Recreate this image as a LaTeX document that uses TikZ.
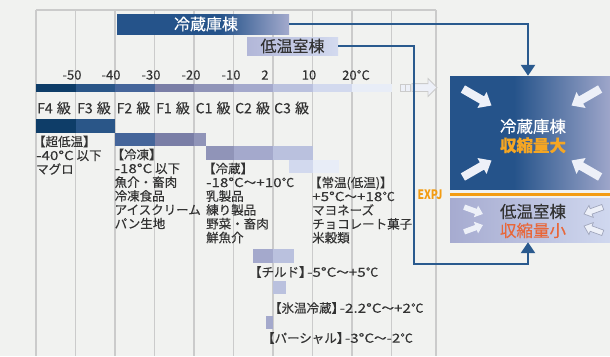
\documentclass[tikz,border=0pt]{standalone}
\usepackage{fontspec}
\setmainfont{Noto Sans CJK JP}[FakeBold=0.25]
\newfontfamily\condfont[FakeStretch=0.8]{Noto Sans CJK JP}
\newfontfamily\widefont[FakeStretch=1.22,FakeBold=0.25]{Noto Sans CJK JP}
\usetikzlibrary{arrows.meta,shapes.arrows}
\definecolor{bgc}{HTML}{F1F2F0}
\definecolor{gridc}{HTML}{CBCBCB}
\definecolor{txt}{HTML}{333333}
\definecolor{navy}{HTML}{2A5A8E}
\definecolor{sA}{HTML}{0E3D68}
\definecolor{sB}{HTML}{2A5688}
\definecolor{sC}{HTML}{45659A}
\definecolor{sD}{HTML}{7A7EA6}
\definecolor{sE}{HTML}{9094B8}
\definecolor{sF}{HTML}{A4A9CC}
\definecolor{sG}{HTML}{BAC1DE}
\definecolor{sH}{HTML}{D2D9EE}
\definecolor{sI}{HTML}{E8EDF7}
\definecolor{rzA}{HTML}{25538A}
\definecolor{rzB}{HTML}{A3AACD}
\definecolor{bxB}{HTML}{9EA6CA}
\definecolor{tbA}{HTML}{B2B7D8}
\definecolor{tbB}{HTML}{D3DAEF}
\definecolor{lbA}{HTML}{A6ABD0}
\definecolor{lbB}{HTML}{D0D8EF}
\definecolor{orng}{HTML}{F39C12}
\definecolor{orgold}{HTML}{F5A623}
\definecolor{orred}{HTML}{E8673A}
\definecolor{arrw}{HTML}{EDF0F8}
\definecolor{arrline}{HTML}{A0A6BC}
\pgfdeclarehorizontalshading{rzshade}{100bp}{color(0bp)=(rzA); color(55bp)=(rzA); color(75bp)=(rzB); color(100bp)=(rzB)}
\pgfdeclarehorizontalshading{bxshade}{100bp}{color(0bp)=(rzA); color(45bp)=(rzA); color(75bp)=(bxB); color(100bp)=(bxB)}
\tikzset{
  num/.style={inner sep=0pt, text=txt, font=\fontsize{13}{13}\selectfont},
  grd/.style={anchor=west, inner sep=0pt, text=txt, font=\fontsize{14}{14}\selectfont},
  blk/.style={anchor=north west, align=left, inner sep=0pt, text=txt, font=\fontsize{12.5}{13.8}\selectfont},
  one/.style={anchor=west, inner sep=0pt, text=txt, font=\fontsize{12.5}{13.8}\selectfont},
  conn/.style={draw=navy, line width=2.4pt, -{Triangle[width=14pt,length=11pt]}},
  bigarr/.style={single arrow, fill=arrw, draw=none, minimum height=33pt, inner xsep=0pt, inner ysep=4pt, single arrow head extend=5pt, single arrow tip angle=80},
  smallarr/.style={single arrow, fill=arrw, draw=none, minimum height=20pt, inner xsep=0pt, inner ysep=2.5pt, single arrow head extend=3.5pt, single arrow tip angle=80},
  hollowarr/.style={smallarr, fill=arrw, draw=arrline, line width=0.7pt},
}
\newcommand{\gsp}{\hspace{0.3em}}
\newcommand{\lt}[1]{{\widefont #1}}
\newcommand{\rb}{】\kern-0.35em}
\newcommand{\lb}{\kern-0.25em【}
\begin{document}
\begin{tikzpicture}[x=1pt,y=-1pt]
\useasboundingbox (0,0) rectangle (610,356);
\fill[bgc] (0,0) rectangle (610,356);
% grid
\foreach \gx in {36,75.5,115,154.5,194,233.5,273,312.5,352,391.5,436}
  \draw[gridc, line width=1.4pt] (\gx,10) -- (\gx,356);
\draw[gridc, line width=1.4pt] (36,10) -- (436,10);
% scale bar
\fill[sA] (36,84) rectangle (75.5,92);
\fill[sB] (75.5,84) rectangle (115,92);
\fill[sC] (115,84) rectangle (154.5,92);
\fill[sD] (154.5,84) rectangle (194,92);
\fill[sE] (194,84) rectangle (233.5,92);
\fill[sF] (233.5,84) rectangle (273,92);
\fill[sG] (273,84) rectangle (312.5,92);
\fill[sH] (312.5,84) rectangle (352,92);
\fill[sI] (352,84) rectangle (391.5,92);
% scale arrow
\draw[draw=gridc, fill=arrw, line width=0.6pt] (400,84) rectangle (405,91);
\draw[draw=gridc, fill=arrw, line width=0.6pt] (405,84) rectangle (410,91);
\node[single arrow, fill=arrw, draw=gridc, line width=0.8pt, minimum height=25pt, inner xsep=0pt, inner ysep=3.5pt, single arrow head extend=5pt, single arrow tip angle=90] (sarr) at (422.5,87.5) {};
% numbers
\node[num] (n1) at (72,75) {-50};
\node[num] (n2) at (111,75) {-40};
\node[num] (n3) at (151,75) {-30};
\node[num] (n4) at (191,75) {-20};
\node[num] (n5) at (231,75) {-10};
\node[num] (n6) at (265,75) {2};
\node[num] (n7) at (309,75) {10};
\node[num] (n8) at (356,75) {20°C};
% grades
\node[grd] (g1) at (37,108) {F4\gsp 級};
\node[grd] (g2) at (77,108) {F3\gsp 級};
\node[grd] (g3) at (116.5,108) {F2\gsp 級};
\node[grd] (g4) at (156,108) {F1\gsp 級};
\node[grd] (g5) at (195.5,108) {C1\gsp 級};
\node[grd] (g6) at (235,108) {C2\gsp 級};
\node[grd] (g7) at (274,108) {C3\gsp 級};
% category bars
\fill[sA] (36,119) rectangle (75.5,133);
\fill[sB] (75.5,119) rectangle (115,133);
\fill[sC] (115,133) rectangle (154.5,146);
\fill[sD] (154.5,133) rectangle (194,146);
\fill[sE] (194,133) rectangle (206,146);
\fill[sE] (206,146) rectangle (233.5,160);
\fill[sF] (233.5,146) rectangle (273,160);
\fill[sG] (273,146) rectangle (312.5,160);
\fill[sH] (289,160) rectangle (312.5,173);
\fill[sI] (312.5,160) rectangle (339,173);
\fill[sF] (253,249) rectangle (273,263);
\fill[sG] (273,249) rectangle (294,263);
\fill[sG] (273,281) rectangle (286,294);
\fill[sF] (266,316) rectangle (273,329);
% category texts
\node[blk] (t1) at (36,135.5) {\lb 超低温】\\\lt{-40°C} 以下\\マグロ};
\node[blk] (t2) at (114.5,148.5) {\lb 冷凍】\\\lt{-18°C} 以下\\魚介・畜肉\\冷凍食品\\アイスクリーム\\パン生地};
\node[blk] (t3) at (206,162.5) {\lb 冷蔵】\\\lt{-18°C}～\lt{+10}℃\\乳製品\\練り製品\\野菜・畜肉\\鮮魚介};
\node[blk] (t4) at (312,176.5) {\lb 常温(低温)】\\\lt{+5°C}～\lt{+18}℃\\マヨネーズ\\チョコレート菓子\\米穀類};
\node[one] (t5) at (252,272) {\lb チルド\rb\lt{-5°C}～\lt{+5}℃};
\node[one] (t6) at (272,308) {\lb 氷温冷蔵\rb\lt{-2.2°C}～\lt{+2}℃};
\node[one] (t7) at (265,338) {\lb パーシャル\rb\lt{-3°C}～\lt{-2}℃};
% top bars
\node[shading=rzshade, minimum width=172pt, minimum height=20pt, inner sep=0pt, text=white, font=\fontsize{16}{16}\selectfont] (rz) at (203,24) {\hspace{6pt}冷蔵庫棟};
\node[left color=tbA, right color=tbB, minimum width=91pt, minimum height=18pt, inner sep=0pt, text=txt, font=\fontsize{16}{16}\selectfont] (tb) at (292.5,46) {低温室棟};
% right boxes
\node[shading=bxshade, minimum width=160pt, minimum height=113pt, inner sep=0pt] (bigbox) at (530,132.5) {};
\node[left color=lbA, right color=lbB, minimum width=160pt, minimum height=44pt, inner sep=0pt] (smallbox) at (530,220) {};
\draw[orng, line width=3pt] ([yshift=-5pt]bigbox.south west) -- ([yshift=-5pt]bigbox.south east);
\node[text=orng, font=\condfont\bfseries\fontsize{13}{13}\selectfont, inner sep=0pt] (expj) at (430,195) {EXPJ};
% box texts
\node[align=center, inner sep=0pt, font=\fontsize{16.5}{19}\selectfont] (bigtxt) at (533,136) {\textcolor{white}{冷蔵庫棟}\\\textcolor{orgold}{\bfseries 収縮量大}};
\node[align=center, inner sep=0pt, font=\fontsize{16.5}{19}\selectfont] (smalltxt) at (533,221) {\textcolor{txt}{低温室棟}\\\textcolor{orred}{収縮量小}};
% arrows in big box
\node[bigarr, rotate=-30] (a1) at (475,96) {};
\node[bigarr, rotate=-150] (a2) at (588,96) {};
\node[bigarr, rotate=30] (a3) at (475,170) {};
\node[bigarr, rotate=150] (a4) at (588,170) {};
% arrows in small box
\node[smallarr, rotate=-20] (b1) at (472,210) {};
\node[smallarr, rotate=20] (b2) at (472,229) {};
\node[hollowarr, rotate=-160] (b3) at (595,210) {};
\node[hollowarr, rotate=160] (b4) at (595,230) {};
% connectors
\coordinate (bend) at (414,264);
\draw[conn] (rz.east) -| ([xshift=-2pt]bigbox.north);
\draw[conn] (tb.east) -| (bend) -| ([xshift=-2pt]smallbox.south);
\end{tikzpicture}
\end{document}
